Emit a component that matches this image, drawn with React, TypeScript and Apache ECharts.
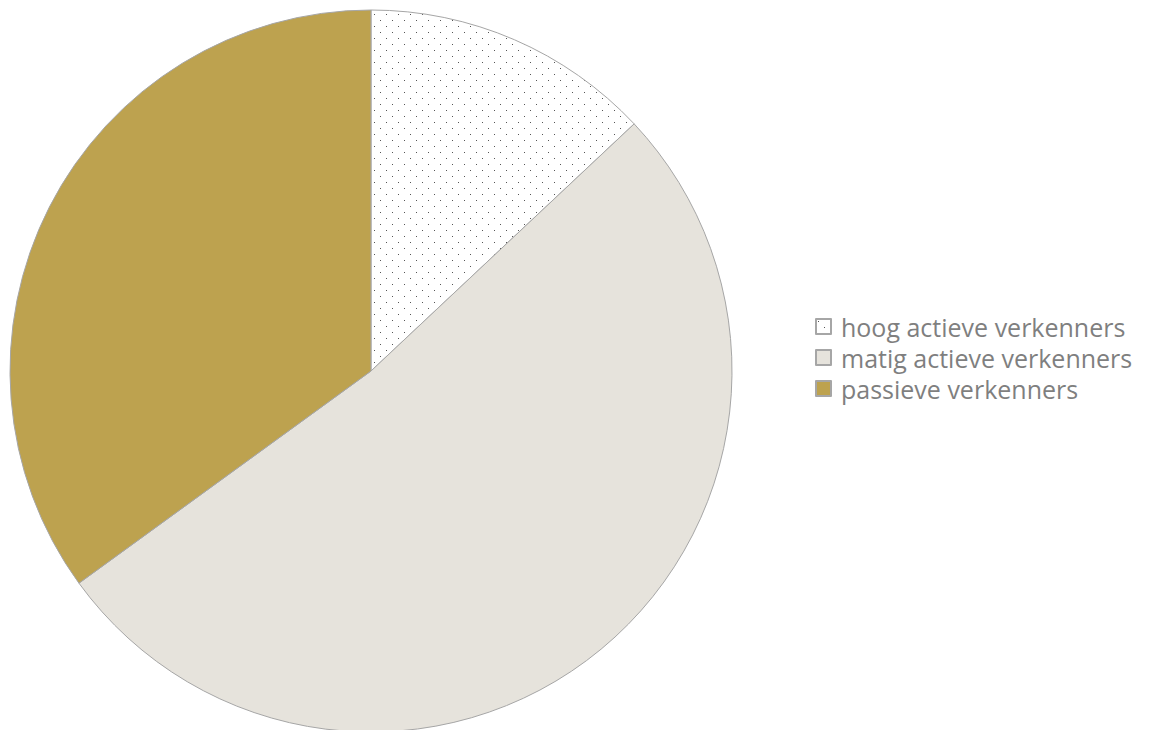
import React, { useEffect, useRef } from "react";
import * as echarts from "echarts";

const categories = ["hoog actieve verkenners", "matig actieve verkenners", "passieve verkenners"];
const values = [13, 52, 35];
const colors = ["#ffffff", "#e6e3dc", "#bda24f"];

function makeDots(): HTMLCanvasElement {
  const c = document.createElement("canvas");
  c.width = 12;
  c.height = 12;
  const ctx = c.getContext("2d")!;
  ctx.fillStyle = "#ffffff";
  ctx.fillRect(0, 0, 12, 12);
  ctx.fillStyle = "#555555";
  ctx.fillRect(2, 2, 1, 1);
  ctx.fillRect(8, 8, 1, 1);
  return c;
}

export default function App() {
  const ref = useRef<HTMLDivElement>(null);
  useEffect(() => {
    if (!ref.current) return;
    const chart = echarts.init(ref.current, undefined, { renderer: "svg" });
    const dots = makeDots();
    chart.setOption({
      animation: false,
      backgroundColor: "#ffffff",
      legend: {
        orient: "vertical",
        left: 810,
        top: 306,
        itemWidth: 15,
        itemHeight: 15,
        itemGap: 0,
        icon: "rect",
        textStyle: {
          fontSize: 25,
          lineHeight: 31,
          color: "#7f7f7f",
          fontFamily: "Open Sans, sans-serif",
          padding: [0, 0, 0, 5],
        },
        data: categories,
      },
      series: [
        {
          type: "pie",
          center: [371, 371],
          radius: 361,
          startAngle: 90,
          clockwise: true,
          label: { show: false },
          labelLine: { show: false },
          itemStyle: { borderColor: "#a6a6a6", borderWidth: 1 },
          emphasis: { disabled: true },
          data: categories.map((name, i) => ({
            name,
            value: values[i],
            itemStyle: {
              color: i === 0 ? { image: dots, repeat: "repeat" } : colors[i],
            },
          })),
        },
      ],
    });
    return () => chart.dispose();
  }, []);
  return (
    <div
      ref={ref}
      style={{ position: "fixed", left: 0, top: 0, width: 1159, height: 730 }}
    />
  );
}
